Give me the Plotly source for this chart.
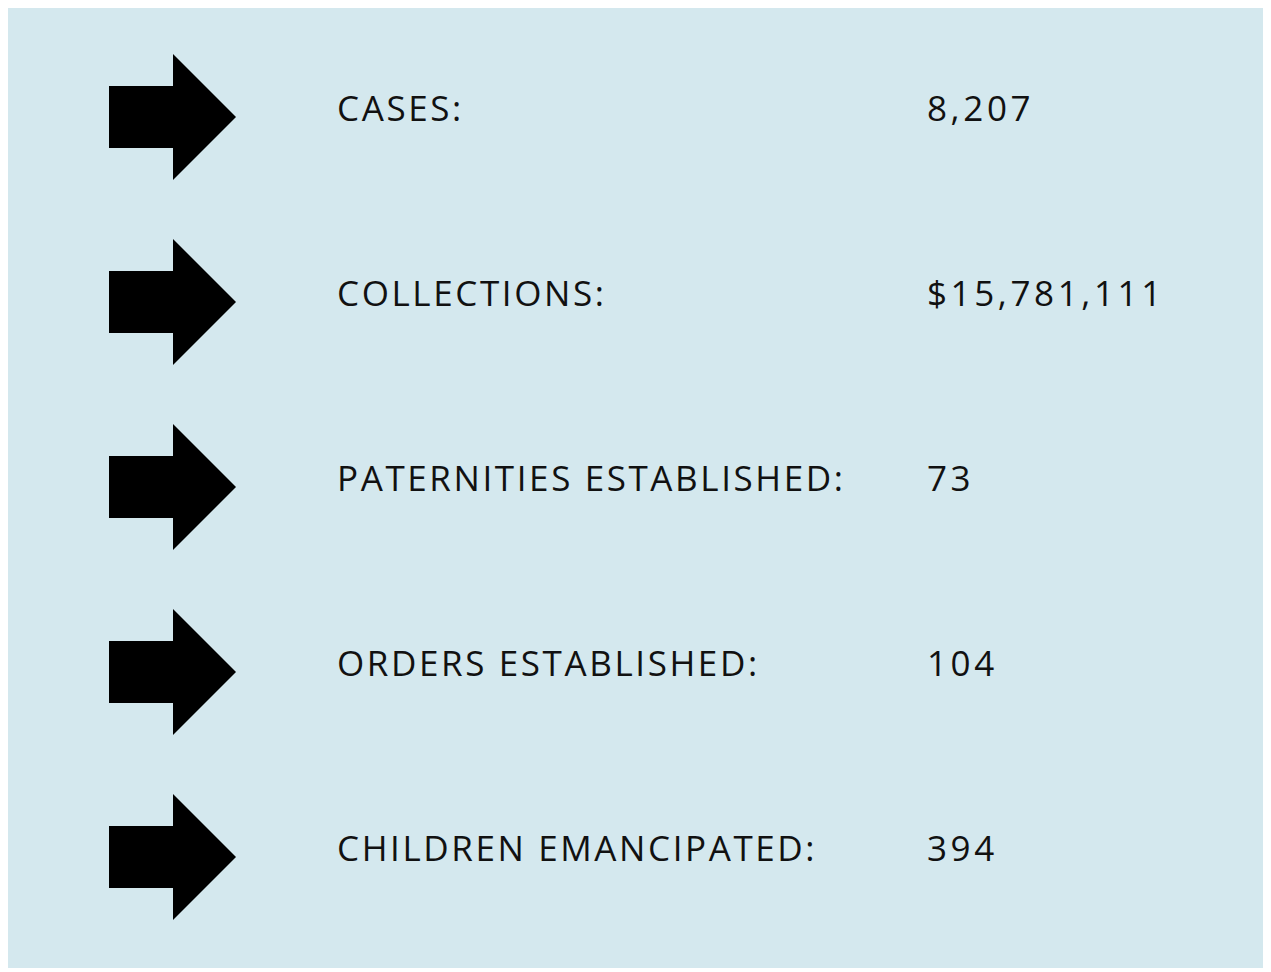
import plotly.graph_objects as go

labels = ["CASES:", "COLLECTIONS:", "PATERNITIES ESTABLISHED:", "ORDERS ESTABLISHED:", "CHILDREN EMANCIPATED:"]
values = ["8,207", "$15,781,111", "73", "104", "394"]

W, H = 1271, 972
OFF = 8  # page body margin
BG = "#d4e8ee"
ROW0, ROW_STEP = 117, 185
# arrow polygon offsets relative to (shaft left, row centre)
ARROW_DX = [0, 64, 64, 127, 64, 64, 0, 0]
ARROW_DY = [-31, -31, -63, 0, 63, 31, 31, -31]
ARROW_X0 = 109
LABEL_X, VALUE_X = 335, 925
FONT = dict(family="Open Sans, Noto Sans, sans-serif", size=35, color="#111111")
LABEL_SPACING, VALUE_SPACING = "2.6px", "3.6px"

fig = go.Figure()
annotations = []
for i, (lab, val) in enumerate(zip(labels, values)):
    yc = ROW0 + ROW_STEP * i
    fig.add_trace(go.Scatter(
        x=[ARROW_X0 + d for d in ARROW_DX],
        y=[yc + d for d in ARROW_DY],
        mode="lines", fill="toself", fillcolor="black",
        line=dict(color="black", width=0), hoverinfo="skip", showlegend=False))
    for txt, x, sp in ((lab, LABEL_X, LABEL_SPACING), (val, VALUE_X, VALUE_SPACING)):
        annotations.append(dict(
            x=x, y=yc - 10, xref="x", yref="y", xanchor="left", yanchor="middle",
            text=f'<span style="letter-spacing:{sp}">{txt}</span>',
            showarrow=False, font=FONT))

fig.update_layout(
    width=W - OFF, height=H - OFF, margin=dict(l=0, r=0, t=0, b=0),
    paper_bgcolor="white", plot_bgcolor="white",
    xaxis=dict(range=[OFF, W], visible=False, fixedrange=True),
    yaxis=dict(range=[H, OFF], visible=False, fixedrange=True),
    shapes=[dict(type="rect", xref="x", yref="y", x0=4, x1=1266, y0=5, y1=968,
                 fillcolor=BG, line=dict(width=0), layer="below")],
    annotations=annotations,
)
fig.write_html("out.html", config={"displayModeBar": False})
